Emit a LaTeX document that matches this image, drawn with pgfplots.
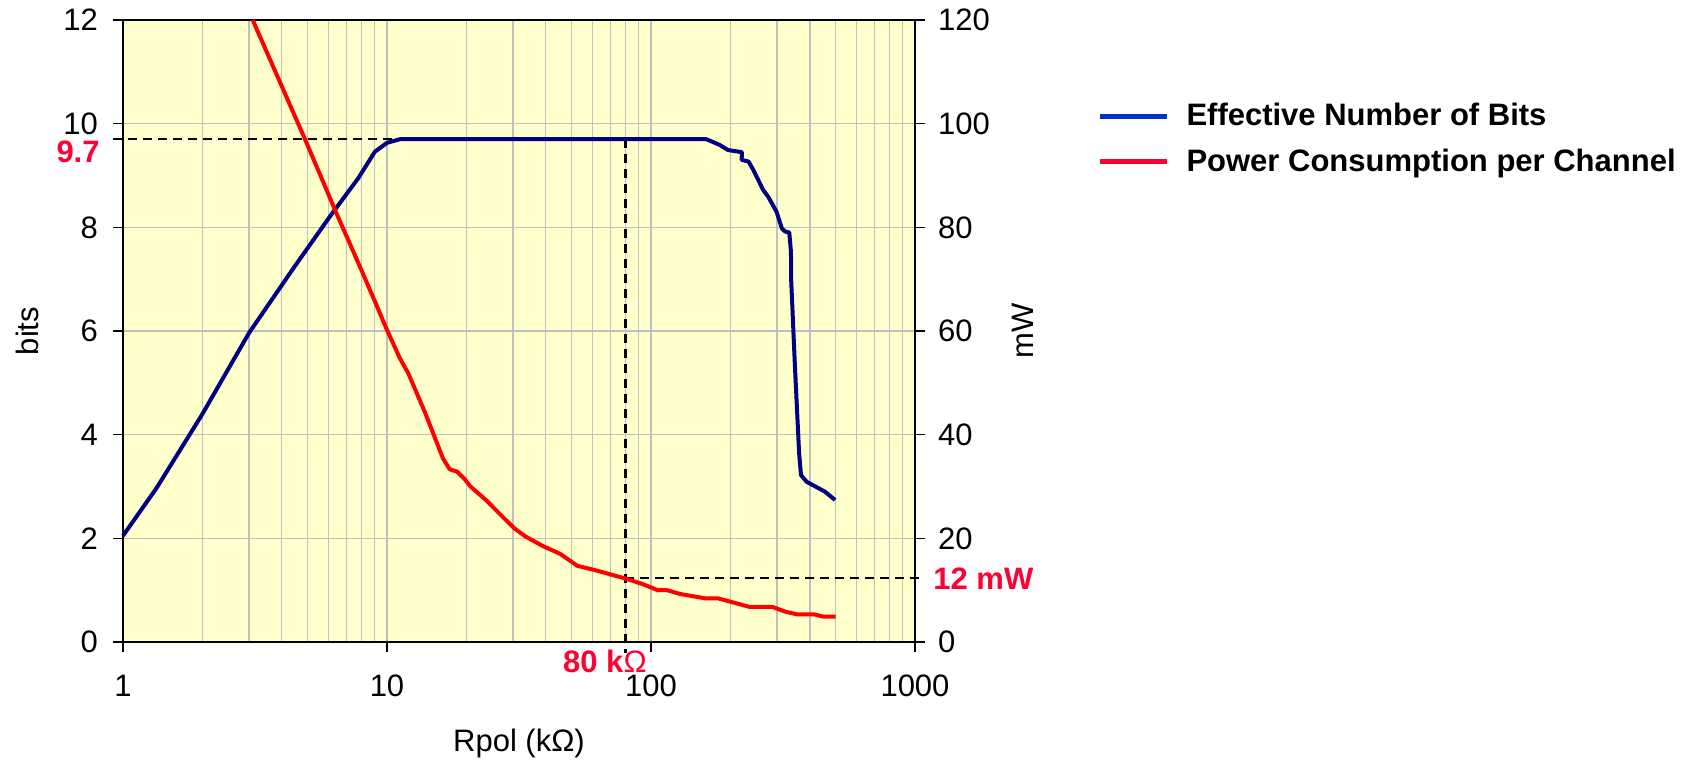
\documentclass[border=0pt]{standalone}
\usepackage{fontspec}
\setmainfont{Liberation Sans}
\usepackage{pgfplots}
\pgfplotsset{compat=1.18}
\definecolor{bg}{RGB}{255,255,204}
\definecolor{gridgray}{RGB}{192,192,192}
\definecolor{navyline}{RGB}{0,0,128}
\definecolor{redline}{RGB}{255,0,0}
\definecolor{legblue}{RGB}{0,51,204}
\definecolor{legred}{RGB}{255,0,51}
\definecolor{lblred}{RGB}{255,0,51}
\newcommand{\tf}{\fontsize{15.5}{18}\selectfont}
\begin{document}
\begin{tikzpicture}
\useasboundingbox (-61.5pt,-59pt) rectangle (792.5pt,321pt);
\begin{axis}[
  at={(0pt,0pt)}, anchor=south west,
  scale only axis, width=396pt, height=311pt,
  xmode=log, xmin=1, xmax=1000, ymin=0, ymax=12,
  xtick={1,10,100,1000}, xticklabels={1,10,100,1000},
  ytick={0,2,...,12},
  xtick pos=bottom, ytick pos=left,
  tick align=outside, major tick length=5pt, minor tick length=0pt,
  xmajorgrids, xminorgrids, ymajorgrids,
  grid style={gridgray, line width=0.55pt},
  minor grid style={gridgray, line width=0.55pt},
  axis line style={black, line width=1pt},
  major tick style={black, line width=0.8pt},
  axis background/.style={fill=bg},
  clip=false,
  ticklabel style={font=\tf},
  /pgf/number format/assume math mode=true,
  xticklabel style={yshift=-8pt},
  yticklabel style={xshift=-4pt},
  xlabel={Rpol (kΩ)}, ylabel={bits},
  label style={font=\tf},
  xlabel style={at={(axis description cs:0.5,-0.163)}, anchor=center},
  ylabel style={at={(axis description cs:-0.1212,0.5)}, anchor=center},
]
\addplot[black, line width=1.1pt, dash pattern=on 4.5pt off 3pt] coordinates {(0.916,9.7) (80,9.7)};
\addplot[black, line width=1.1pt, dash pattern=on 4.5pt off 3pt] coordinates {(80,9.7) (80,-0.21)};
\addplot[navyline, line width=2pt, line join=round] coordinates {
(1,2.05) (1.34,2.97) (2,4.40) (3,5.96) (4.42,7.21) (6.08,8.21) (7.79,8.95)
(9.0,9.46) (10,9.63) (11.2,9.70) (162,9.70) (182,9.59) (196,9.49) (221,9.45) (220.5,9.30)
(234,9.27) (244,9.11) (266,8.72) (278,8.59) (299,8.30) (313,7.98) (322,7.92) (334,7.90)
(339,7.53) (339.5,7.0) (351,5.31) (364,3.64) (370,3.22) (389,3.09) (456,2.90) (498,2.74)
};
\node[anchor=east, inner sep=0pt, text=lblred, font=\tf\bfseries] at (axis cs:1,9.45) [xshift=-11.5pt] {9.7};
\node[anchor=center, inner sep=0pt, text=lblred, font=\tf] at (axis cs:80,0) [xshift=-10.25pt, yshift=-9.5pt] {\textbf{80 k}Ω};
\end{axis}
\begin{axis}[
  at={(0pt,0pt)}, anchor=south west,
  scale only axis, width=396pt, height=311pt,
  xmode=log, xmin=1, xmax=1000, ymin=0, ymax=120,
  axis x line=none, axis y line*=right,
  ytick={0,20,...,120},
  tick align=outside, major tick length=5pt, minor tick length=0pt,
  axis line style={black, line width=1pt},
  major tick style={black, line width=0.8pt},
  clip=false,
  ticklabel style={font=\tf},
  /pgf/number format/assume math mode=true,
  yticklabel style={xshift=3pt},
  ylabel={mW},
  label style={font=\tf},
  ylabel style={at={(axis description cs:1.1364,0.5)}, anchor=center},
  legend style={at={(axis description cs:1.2298,0.8087)}, anchor=west,
    draw=none, fill=none, inner sep=0pt, font=\tf\bfseries,
    nodes={inner sep=0pt, anchor=west}, column sep=8.75pt, row sep=10pt},
  legend image code/.code={\draw[#1] (0pt,0pt) -- (33.5pt,0pt);},
]
\addplot[black, line width=1.1pt, dash pattern=on 4.5pt off 3pt, forget plot] coordinates {(80,12.3) (1091,12.3)};
\addplot[redline, line width=2pt, line join=round, forget plot] coordinates {
(3.10,120) (4.93,96.6) (6.45,82.6) (7.9,72.4) (9.0,65.7) (10,60.2) (11.2,54.7) (12.05,51.8)
(13.9,44.4) (16.3,35.4) (17.3,33.3) (18.4,32.9) (19.7,31.4) (20.7,30.0) (23.7,27.4) (27.0,24.5)
(30.4,21.9) (33.6,20.3) (39.0,18.5) (45.3,17.0) (52.6,14.7) (62.1,13.8) (79.3,12.3) (92.7,11.2)
(106,10.0) (115,10.0) (129,9.26) (160,8.43) (180,8.4) (235,6.8) (287,6.8) (323,5.85)
(357,5.34) (414,5.34) (450,4.9) (500,4.9)
};
\node[anchor=west, inner sep=0pt, text=lblred, font=\tf\bfseries] at (axis cs:1000,12.3) [xshift=9pt] {12 mW};
\addlegendimage{legblue, line width=2.3pt}
\addlegendentry{Effective Number of Bits}
\addlegendimage{legred, line width=2.3pt}
\addlegendentry{Power Consumption per Channel}
\end{axis}
\end{tikzpicture}
\end{document}
